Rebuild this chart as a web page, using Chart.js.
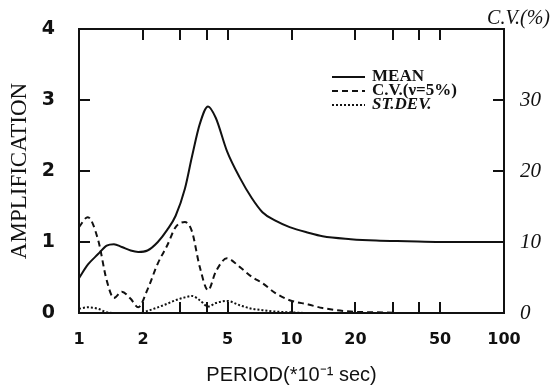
<!DOCTYPE html>
<html>
<head>
<meta charset="utf-8">
<script src="https://cdn.jsdelivr.net/npm/chart.js@4.4.1/dist/chart.umd.min.js"></script>
<style>
  html, body { margin: 0; padding: 0; background: #fff; }
</style>
</head>
<body>
<canvas id="ampChart" width="550" height="390"></canvas>
<script>
// period (*0.1 sec) and the three curves
const periods   = [1, 1.1, 1.23, 1.35, 1.46, 1.59, 1.75, 1.9, 2.1, 2.35, 2.6, 2.85, 3.15, 3.4, 3.7, 4.05, 4.4, 4.97, 5.7, 6.5, 7.3, 8.4, 9.8, 12, 14, 19, 25, 35, 50, 70, 100];
const meanAmp   = [0.49, 0.68, 0.83, 0.95, 0.97, 0.93, 0.88, 0.86, 0.88, 1.0, 1.17, 1.37, 1.75, 2.2, 2.66, 2.91, 2.75, 2.28, 1.91, 1.62, 1.42, 1.3, 1.21, 1.13, 1.08, 1.04, 1.02, 1.01, 1.0, 1.0, 1.0];
const cvPercent = [12.1, 13.5, 10.3, 4.6, 2.1, 3.0, 2.0, 0.8, 3.3, 7.0, 9.5, 12.1, 12.8, 11.5, 6.5, 3.2, 5.8, 7.7, 6.5, 5.1, 4.2, 2.8, 1.8, 1.2, 0.7, 0.2, 0.1, 0, 0, 0, 0];
const stDev     = [0.06, 0.08, 0.06, 0.01, 0, 0, 0, 0, 0.03, 0.08, 0.13, 0.18, 0.22, 0.24, 0.18, 0.09, 0.14, 0.17, 0.11, 0.06, 0.04, 0.02, 0.01, 0, 0, 0, 0, 0, 0, 0, 0];

const xTickLabels = [1, 2, 5, 10, 20, 50, 100];
const xTickMarks = [2, 3, 4, 5, 10, 20, 30, 40, 50];
const leftTickMarks = [1, 2, 3];
const rightTickLabels = [0, 10, 20, 30];
const rightTickMarks = [10, 20, 30];

const ink = '#111';

const toPoints = vals => periods.map((p, i) => ({ x: p, y: vals[i] }));

// box around the plot with inward tick marks
const frameAndTicks = {
  id: 'frameAndTicks',
  afterDraw(chart) {
    const ctx = chart.ctx;
    const a = chart.chartArea;
    const sx = chart.scales.x, sy = chart.scales.y, sy1 = chart.scales.y1;
    const len = 11;
    ctx.save();
    ctx.setLineDash([]);
    ctx.strokeStyle = ink;
    ctx.fillStyle = ink;
    ctx.lineWidth = 2;
    ctx.strokeRect(a.left, a.top, a.right - a.left, a.bottom - a.top);
    xTickMarks.forEach(v => {
      const px = Math.round(sx.getPixelForValue(v));
      ctx.fillRect(px - 1, a.bottom - len, 2, len);
      ctx.fillRect(px - 1, a.top, 2, len);
    });
    leftTickMarks.forEach(v => {
      const py = Math.round(sy.getPixelForValue(v));
      ctx.fillRect(a.left, py - 1, len, 2);
    });
    rightTickMarks.forEach(v => {
      const py = Math.round(sy1.getPixelForValue(v));
      ctx.fillRect(a.right - len, py - 1, len, 2);
    });
    ctx.restore();
  }
};

// legend inside the plot, like the original
const innerLegend = {
  id: 'innerLegend',
  afterDraw(chart) {
    const ctx = chart.ctx;
    const x0 = 332, x1 = 365, tx = 372;
    const rows = [77, 91, 105];
    const fonts = ['bold 17px "Liberation Serif"', 'bold 17px "Liberation Serif"', 'italic bold 17px "Liberation Serif"'];
    ctx.save();
    chart.data.datasets.forEach((ds, i) => {
      ctx.strokeStyle = ink;
      ctx.lineWidth = ds.borderWidth;
      ctx.setLineDash(ds.borderDash || []);
      ctx.beginPath();
      ctx.moveTo(x0, rows[i]);
      ctx.lineTo(x1, rows[i]);
      ctx.stroke();
      ctx.setLineDash([]);
      ctx.fillStyle = ink;
      ctx.font = fonts[i];
      ctx.textBaseline = 'middle';
      ctx.fillText(ds.label, tx, rows[i]);
    });
    ctx.restore();
  }
};

new Chart(document.getElementById('ampChart'), {
  type: 'line',
  data: {
    datasets: [
      { label: 'MEAN', data: toPoints(meanAmp), yAxisID: 'y', borderColor: ink, borderWidth: 2, pointRadius: 0, cubicInterpolationMode: 'monotone' },
      { label: 'C.V.(ν=5%)', data: toPoints(cvPercent), yAxisID: 'y1', borderColor: ink, borderWidth: 2, borderDash: [6, 4], pointRadius: 0, cubicInterpolationMode: 'monotone' },
      { label: 'ST.DEV.', data: toPoints(stDev), yAxisID: 'y', borderColor: ink, borderWidth: 2, borderDash: [2, 2], pointRadius: 0, cubicInterpolationMode: 'monotone' }
    ]
  },
  options: {
    responsive: false,
    animation: false,
    layout: { padding: 0 },
    plugins: {
      legend: { display: false },
      tooltip: { enabled: false },
      title: {
        display: true,
        text: 'C.V.(%)',
        align: 'end',
        color: ink,
        font: { family: 'Liberation Serif', style: 'italic', weight: 'normal', size: 20, lineHeight: 1.0 },
        padding: { top: 9, bottom: 0 }
      }
    },
    scales: {
      x: {
        type: 'logarithmic',
        min: 1,
        max: 100,
        afterBuildTicks: s => { s.ticks = xTickLabels.map(v => ({ value: v })); },
        afterFit: s => { s.height = 77; },
        grid: { display: false },
        border: { display: false },
        ticks: {
          autoSkip: false,
          maxRotation: 0,
          padding: 9,
          color: ink,
          font: { family: 'DejaVu Sans', weight: 'bold', size: 16 },
          callback: v => String(v)
        },
        title: {
          display: true,
          text: 'PERIOD(*10⁻¹ sec)',
          color: ink,
          font: { family: 'Liberation Sans', size: 20 },
          padding: { top: 0, bottom: 3 }
        }
      },
      y: {
        position: 'left',
        min: 0,
        max: 4,
        afterFit: s => { s.width = 79; },
        grid: { display: false },
        border: { display: false },
        ticks: {
          stepSize: 1,
          padding: 16,
          color: ink,
          font: { family: 'DejaVu Sans', weight: 'bold', size: 19 }
        },
        title: {
          display: true,
          text: 'AMPLIFICATION',
          color: ink,
          font: { family: 'Liberation Serif', size: 23 },
          padding: { top: 6, bottom: 0 }
        }
      },
      y1: {
        position: 'right',
        min: 0,
        max: 40,
        afterBuildTicks: s => { s.ticks = rightTickLabels.map(v => ({ value: v })); },
        afterFit: s => { s.width = 46; },
        grid: { display: false },
        border: { display: false },
        ticks: {
          padding: 8,
          color: ink,
          font: { family: 'Liberation Serif', style: 'italic', size: 21 }
        }
      }
    }
  },
  plugins: [frameAndTicks, innerLegend]
});
</script>
</body>
</html>
